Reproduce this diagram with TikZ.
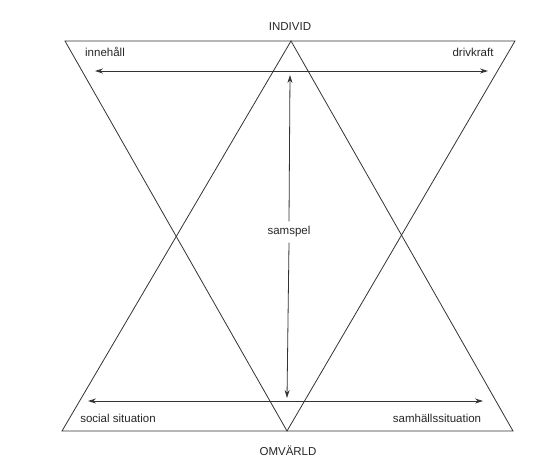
\documentclass[tikz,border=0pt]{standalone}
\usepackage{fontspec}
\setmainfont{Liberation Sans}
\usetikzlibrary{arrows.meta}
\begin{document}
\begin{tikzpicture}[x=1pt,y=-1pt,
  tri/.style={draw=black!80,line width=0.8pt,line join=miter},
  arr/.style={draw=black!80,line width=0.8pt,{Stealth[length=8pt,width=5pt]}-{Stealth[length=8pt,width=5pt]}},
  varr/.style={draw=black!80,line width=0.8pt,-{Stealth[length=8pt,width=5pt]}},
  lbl/.style={font=\fontsize{11.5}{13}\selectfont,text=black!85,inner sep=1pt}]
\useasboundingbox (0,0) rectangle (551,458);
% triangles
\coordinate (tl) at (65,41);
\coordinate (tr) at (515,41);
\coordinate (ba) at (287,431);
\coordinate (bl) at (62,431);
\coordinate (br) at (513,431);
\coordinate (ta) at (291,41);
\draw[tri] (tl) -- (tr) -- (ba) -- cycle;
\draw[tri] (bl) -- (br) -- (ta) -- cycle;
% arrows
\coordinate (a1) at (95,71);
\coordinate (a2) at (488,71);
\draw[arr] (a1) -- (a2);
\coordinate (b1) at (88,401);
\coordinate (b2) at (483,401);
\draw[arr] (b1) -- (b2);
% labels
\node[lbl] (ind) at (290,27) {INDIVID};
\node[lbl] (omv) at (288,451) {OMVÄRLD};
\node[lbl] (inn) at (105,52) {innehåll};
\node[lbl] (dri) at (473,52) {drivkraft};
\node[lbl] (soc) at (118,418) {social situation};
\node[lbl] (sam) at (437,418) {samhällssituation};
\node[lbl,inner sep=5pt] (ssp) at (289,232) {samspel};
\coordinate (vt) at (290,75);
\coordinate (vb) at (287,398);
\draw[varr] (ssp.north) -- (vt);
\draw[varr] (ssp.south) -- (vb);
\end{tikzpicture}
\end{document}
